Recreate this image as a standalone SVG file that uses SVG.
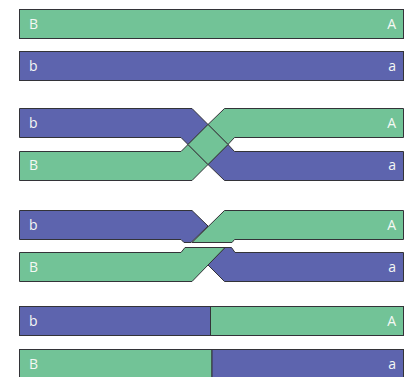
<svg xmlns="http://www.w3.org/2000/svg" width="409" height="377" viewBox="0 0 409 377">
  <style>
    .g { fill: #72c397; }
    .b { fill: #5d64ae; }
    .s { fill: none; stroke: #333338; stroke-width: 1; stroke-linejoin: miter; }
    path, rect { stroke: #333338; stroke-width: 1; }
    text { font-family: "Open Sans", "Liberation Sans", sans-serif; font-size: 14px; fill: #f4f8f4; }
    .r { text-anchor: end; }
  </style>

  <g id="row-1">
    <rect class="g" x="19.5" y="9.5" width="384" height="29"/>
    <text x="29" y="29">B</text>
    <text class="r" x="396" y="29">A</text>
  </g>
  <g id="row-2">
    <rect class="b" x="19.5" y="51.5" width="384" height="29"/>
    <text x="29" y="71">b</text>
    <text class="r" x="396" y="71">a</text>
  </g>

  <g id="crossing">
    <path class="b" d="M19.5 108.5H192L208 124.5L188 144.5L181 137.5H19.5Z"/>
    <path class="g" d="M403.5 108.5H224.5L208 124.5L228 144.5L234.5 137.5H403.5Z"/>
    <path class="g" d="M19.5 151.5H181L188 144.5L208 164.5L192 180.5H19.5Z"/>
    <path class="b" d="M403.5 151.5H234.5L228 144.5L208 164.5L224.5 180.5H403.5Z"/>
    <path class="g" d="M208 124.5L228 144.5L208 164.5L188 144.5Z"/>
    <text x="29" y="128">b</text>
    <text class="r" x="396" y="128">A</text>
    <text x="29" y="170">B</text>
    <text class="r" x="396" y="170">a</text>
  </g>

  <g id="separating">
    <path class="b" d="M19.5 210.5H192L208 226L191 242.5H184L181 239.5H19.5Z"/>
    <path class="g" d="M403.5 210.5H224.5L192 242.5H232L234.5 239.5H403.5Z"/>
    <path class="b" d="M403.5 252.5H235L231.500 247.500H225L208 265L224.500 281.500H403.500Z"/>
    <path class="g" d="M19.5 252.500H181L185 247.500H225L192 281.500H19.500Z"/>
    <text x="29" y="230">b</text>
    <text class="r" x="396" y="230">A</text>
    <text x="29" y="272">B</text>
    <text class="r" x="396" y="272">a</text>
  </g>

  <g id="row-5">
    <rect class="b" x="19.5" y="306.5" width="191" height="29"/>
    <rect class="g" x="210.5" y="306.5" width="193" height="29"/>
    <text x="29" y="326">b</text>
    <text class="r" x="396" y="326">A</text>
  </g>
  <g id="row-6">
    <rect class="g" x="19.5" y="349.5" width="192.500" height="29"/>
    <rect class="b" x="212" y="349.500" width="191.500" height="29"/>
    <text x="29" y="369">B</text>
    <text class="r" x="396" y="369">a</text>
  </g>
</svg>
